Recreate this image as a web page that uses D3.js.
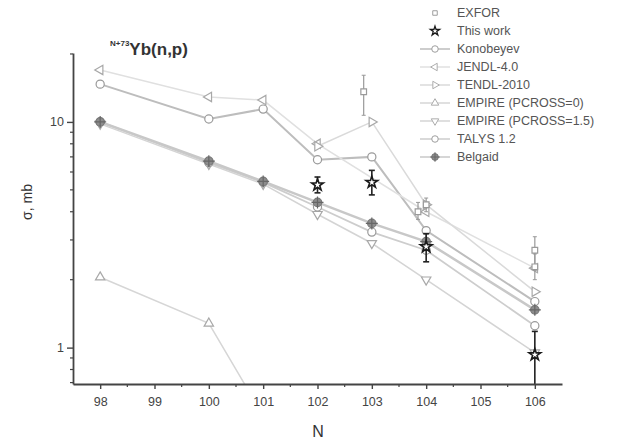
<!DOCTYPE html>
<html>
<head>
<meta charset="utf-8">
<script src="https://cdn.jsdelivr.net/npm/d3@7"></script>
<style>
	body { margin: 0; background: #fff; }
	text { font-family: Arial, "Liberation Sans", sans-serif; }
</style>
</head>
<body>
<script>
// values (sigma in mb)
var nModel = [98, 100, 101, 102, 103, 104, 106];

var konobeyev = [14.7, 10.3, 11.4, 6.8, 7.0, 3.3, 1.6];
var jendlN = [98, 100, 101, 102, 104, 106];
var jendl = [17.0, 12.9, 12.5, 8.0, 4.0, 2.25];
var tendlN = [102, 103, 104, 106];
var tendl = [7.8, 10.0, 4.3, 1.77];
var empire0N = [98, 100, 101];
var empire0 = [2.05, 1.28, 0.5];
var empire15 = [9.8, 6.5, 5.3, 3.9, 2.9, 2.0, 0.95];
var talys = [10.0, 6.6, 5.4, 4.2, 3.25, 2.7, 1.25];
var belgaid = [10.0, 6.7, 5.45, 4.4, 3.55, 2.95, 1.47];

var exforN = [102.85, 103.85, 104.0, 106, 106];
var exfor = [13.6, 4.0, 4.3, 2.7, 2.28];
var exforLo = [10.7, 3.7, 4.0, 2.2, 2.0];
var exforHi = [16.1, 4.4, 4.6, 3.1, 2.6];

var workN = [102, 103, 104, 106];
var work = [5.26, 5.4, 2.8, 0.93];
var workLo = [4.85, 4.75, 2.4, 0.6];
var workHi = [5.7, 6.1, 3.2, 1.18];

var xTicks = [98, 99, 100, 101, 102, 103, 104, 105, 106];
var yTicks = [1, 10];

var legendNames = ['EXFOR', 'This work', 'Konobeyev', 'JENDL-4.0', 'TENDL-2010',
	'EMPIRE (PCROSS=0)', 'EMPIRE (PCROSS=1.5)', 'TALYS 1.2', 'Belgaid'];

window.onload = function() {
	var width = 640, height = 443;
	var left = 73, right = 562, top = 53, bottom = 384;

	var svg = d3.select('body').append('svg')
		.attr('width', width)
		.attr('height', height);

	var x = d3.scaleLinear().domain([97.5, 106.5]).range([left, right]);
	var y = d3.scaleLog().domain([0.69, 20.2]).range([bottom, top]);

	svg.append('clipPath').attr('id', 'plot')
		.append('rect')
		.attr('x', left).attr('y', top)
		.attr('width', right - left).attr('height', bottom - top);

	var shapes = {
		square: d3.symbol(d3.symbolSquare, 32)(),
		circle: d3.symbol(d3.symbolCircle, 52)(),
		star: d3.symbol(d3.symbolStar, 42)(),
		tri: d3.symbol(d3.symbolTriangle, 38)(),
		cross: d3.symbol(d3.symbolCircle, 56)()
	};

	var series = [
		{name: 'Konobeyev', n: nModel, v: konobeyev, line: '#bdbdbd', lw: 2, shape: 'circle', rot: 0, fill: '#fff', stroke: '#9a9a9a'},
		{name: 'JENDL-4.0', n: jendlN, v: jendl, line: '#e0e0e0', lw: 1.5, shape: 'tri', rot: -90, fill: '#fff', stroke: '#a8a8a8'},
		{name: 'TENDL-2010', n: tendlN, v: tendl, line: '#dadada', lw: 1.5, shape: 'tri', rot: 90, fill: '#fff', stroke: '#a8a8a8'},
		{name: 'EMPIRE (PCROSS=0)', n: empire0N, v: empire0, line: '#d6d6d6', lw: 1.5, shape: 'tri', rot: 0, fill: '#fff', stroke: '#a8a8a8'},
		{name: 'EMPIRE (PCROSS=1.5)', n: nModel, v: empire15, line: '#d4d4d4', lw: 1.5, shape: 'tri', rot: 180, fill: '#fff', stroke: '#a8a8a8'},
		{name: 'TALYS 1.2', n: nModel, v: talys, line: '#cdcdcd', lw: 1.8, shape: 'circle', rot: 0, fill: '#fff', stroke: '#9a9a9a'},
		{name: 'Belgaid', n: nModel, v: belgaid, line: '#c8c8c8', lw: 2.5, shape: 'cross', rot: 0, fill: '#8c8c8c', stroke: '#777'}
	];

	var line = d3.line()
		.x(function(d) { return x(d[0]); })
		.y(function(d) { return y(d[1]); });

	var plot = svg.append('g').attr('clip-path', 'url(#plot)');

	series.forEach(function(s) {
		var pts = s.n.map(function(n, i) { return [n, s.v[i]]; });
		plot.append('path')
			.datum(pts)
			.attr('d', line)
			.attr('fill', 'none')
			.attr('stroke', s.line)
			.attr('stroke-width', s.lw);
	});

	function drawMarker(g, s, px, py, k) {
		k = k || 1;
		var m = g.append('g').attr('transform', 'translate(' + px + ',' + py + ') scale(' + k + ')');
		m.append('path')
			.attr('d', shapes[s.shape])
			.attr('transform', 'rotate(' + s.rot + ')')
			.attr('fill', s.fill)
			.attr('stroke', s.stroke)
			.attr('stroke-width', s.sw || 1.2);
		if (s.shape === 'cross') {
			m.append('path').attr('d', 'M-6,0H6M0,-6V6')
				.attr('stroke', '#666').attr('stroke-width', 1.2);
		}
	}

	series.forEach(function(s) {
		s.n.forEach(function(n, i) {
			if (s.v[i] < y.domain()[0]) return;
			drawMarker(plot, s, x(n), y(s.v[i]));
		});
	});

	// EXFOR with error bars
	var exS = {shape: 'square', rot: 0, fill: '#fff', stroke: '#9a9a9a'};
	exfor.forEach(function(v, i) {
		plot.append('line')
			.attr('x1', x(exforN[i])).attr('x2', x(exforN[i]))
			.attr('y1', y(exforLo[i])).attr('y2', y(exforHi[i]))
			.attr('stroke', '#999').attr('stroke-width', 1.2);
		[exforLo[i], exforHi[i]].forEach(function(e) {
			plot.append('line')
				.attr('x1', x(exforN[i]) - 2).attr('x2', x(exforN[i]) + 2)
				.attr('y1', y(e)).attr('y2', y(e))
				.attr('stroke', '#999');
		});
		drawMarker(plot, exS, x(exforN[i]), y(v));
	});

	// this work, dark stars with error bars
	var wS = {shape: 'star', rot: 0, fill: '#fff', stroke: '#1a1a1a', sw: 1.6};
	work.forEach(function(v, i) {
		plot.append('line')
			.attr('x1', x(workN[i])).attr('x2', x(workN[i]))
			.attr('y1', y(workLo[i])).attr('y2', y(workHi[i]))
			.attr('stroke', '#222').attr('stroke-width', 1.6);
		[workLo[i], workHi[i]].forEach(function(e) {
			plot.append('line')
				.attr('x1', x(workN[i]) - 3).attr('x2', x(workN[i]) + 3)
				.attr('y1', y(e)).attr('y2', y(e))
				.attr('stroke', '#222').attr('stroke-width', 1.6);
		});
		drawMarker(plot, wS, x(workN[i]), y(v));
	});

	// axes
	var xMinor = d3.range(98.5, 106.5, 1);
	var xAxis = svg.append('g')
		.attr('transform', 'translate(0,' + bottom + ')')
		.call(d3.axisBottom(x).tickValues(xTicks).tickFormat(d3.format('d'))
			.tickSize(5).tickSizeOuter(0));
	xMinor.forEach(function(t) {
		xAxis.append('line').attr('x1', x(t)).attr('x2', x(t))
			.attr('y1', 0).attr('y2', 3).attr('stroke', '#444').attr('stroke-width', 1.2);
	});

	var yMinor = [0.7, 0.8, 0.9, 2, 3, 4, 5, 6, 7, 8, 9, 20];
	var yAxis = svg.append('g')
		.attr('transform', 'translate(' + left + ',0)')
		.call(d3.axisLeft(y).tickValues(yTicks).tickFormat(d3.format('d'))
			.tickSize(6).tickSizeOuter(0));
	yMinor.forEach(function(t) {
		yAxis.append('line').attr('x1', 0).attr('x2', -3)
			.attr('y1', y(t)).attr('y2', y(t)).attr('stroke', '#444').attr('stroke-width', 1.2);
	});

	svg.selectAll('.domain').attr('stroke', '#444').attr('stroke-width', 1.8);
	svg.selectAll('.tick line').attr('stroke', '#444').attr('stroke-width', 1.4);
	svg.selectAll('.tick text')
		.attr('fill', '#444')
		.style('font-size', '12.5px');
	xAxis.selectAll('.tick text').attr('dy', '1.1em');

	// axis labels
	svg.append('text')
		.attr('x', 318).attr('y', 437)
		.attr('text-anchor', 'middle')
		.style('font-size', '16px')
		.attr('fill', '#333')
		.text('N');

	svg.append('text')
		.attr('transform', 'translate(32,202) rotate(-90)')
		.attr('text-anchor', 'middle')
		.style('font-size', '14px')
		.attr('fill', '#333')
		.text('σ, mb');

	// title
	var title = svg.append('text')
		.attr('x', 110).attr('y', 55)
		.attr('fill', '#333')
		.style('font-weight', 'bold');
	title.append('tspan')
		.attr('dy', '-9')
		.style('font-size', '8px')
		.text('N+73');
	title.append('tspan')
		.attr('dy', '9')
		.style('font-size', '17px')
		.text('Yb(n,p)');

	// legend
	var legendStyles = [
		{s: exS, line: null},
		{s: wS, line: null}
	].concat(series.map(function(s) { return {s: s, line: s.line}; }));

	var lg = svg.append('g');
	legendNames.forEach(function(name, i) {
		var ly = 13 + i * 18;
		var st = legendStyles[i];
		if (st.line) {
			lg.append('line')
				.attr('x1', 420).attr('x2', 450)
				.attr('y1', ly).attr('y2', ly)
				.attr('stroke', st.line).attr('stroke-width', 1.5);
		}
		drawMarker(lg, st.s, 435, ly, 0.8);
		lg.append('text')
			.attr('x', 457).attr('y', ly)
			.attr('dy', '0.35em')
			.style('font-size', '12.5px')
			.attr('fill', '#555')
			.text(name);
	});
};
</script>
</body>
</html>
